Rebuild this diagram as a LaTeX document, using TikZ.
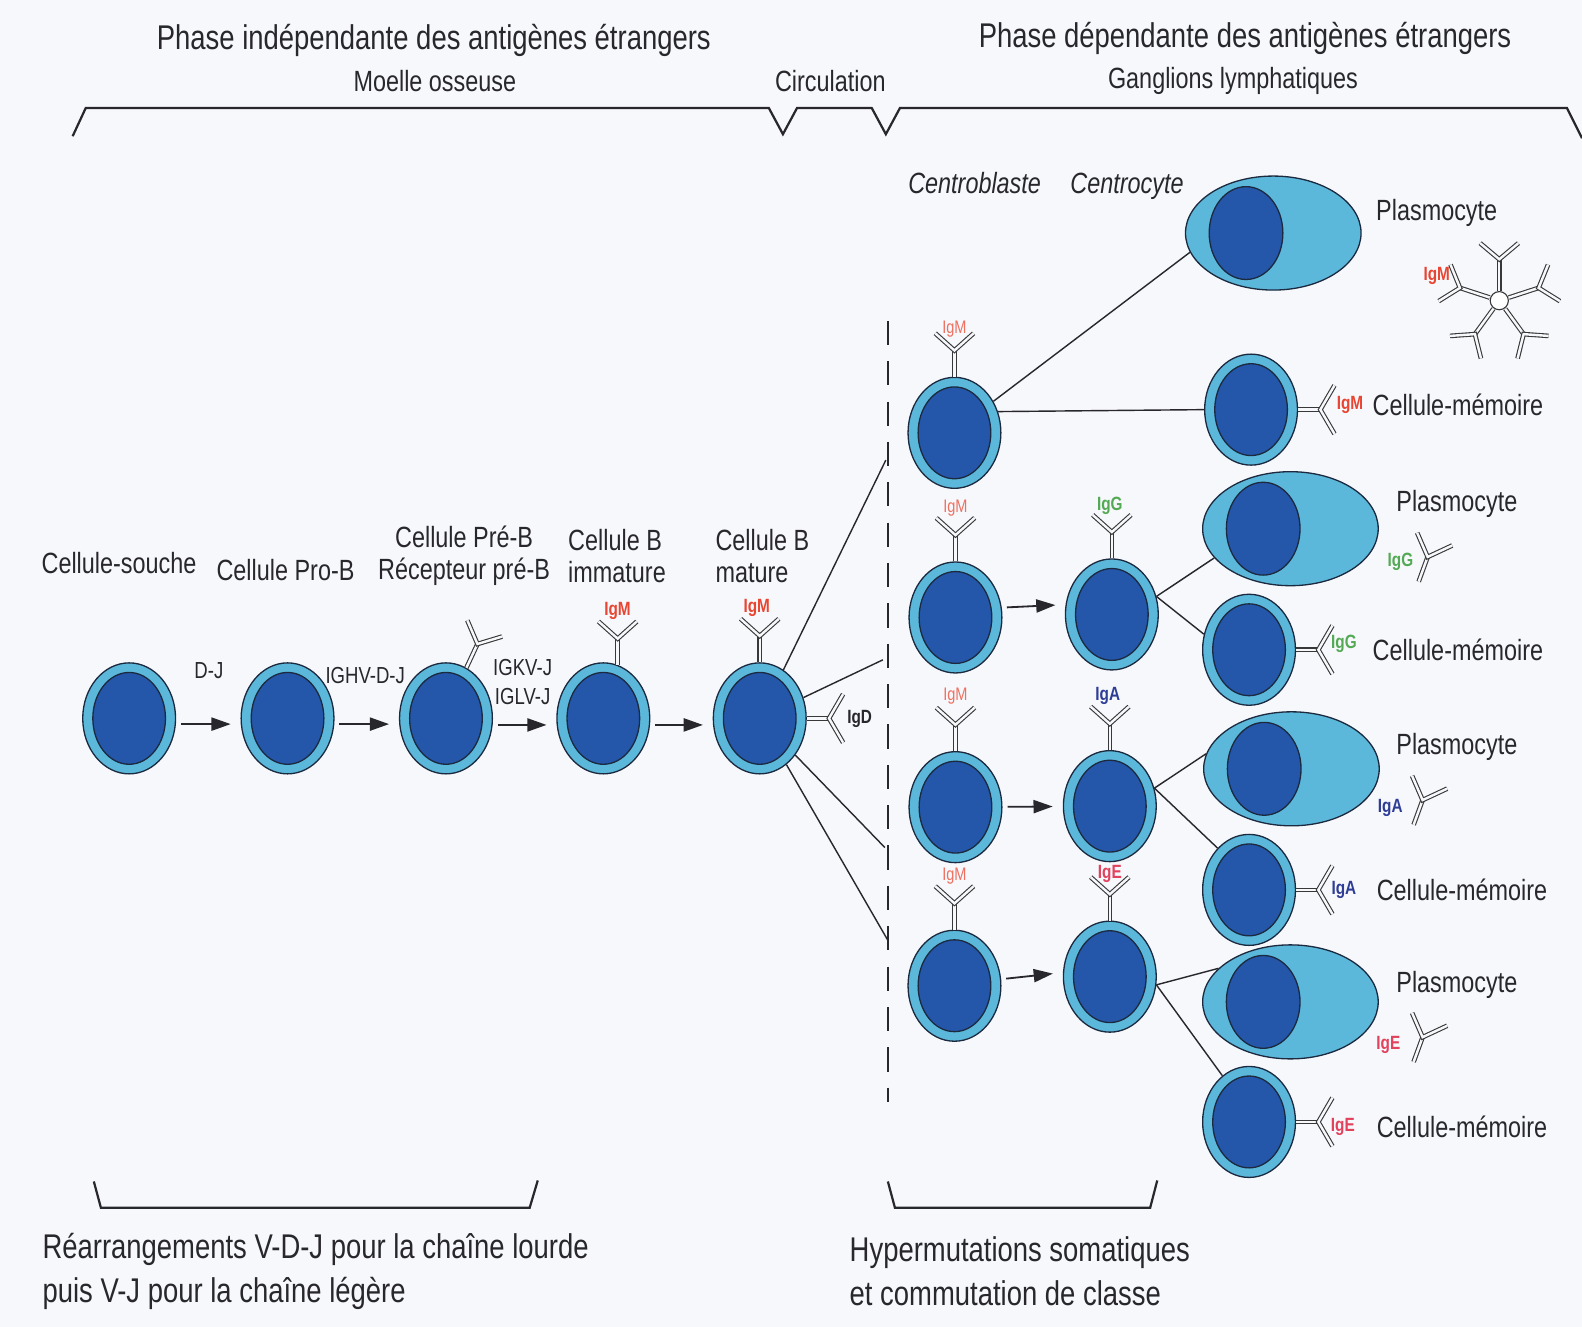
\documentclass[tikz,border=0pt]{standalone}
\usepackage{fontspec}
\setmainfont{Liberation Sans}[FakeStretch=0.8]
\usepackage{tikz}
\usetikzlibrary{arrows.meta}
\usetikzlibrary{shapes.geometric}

\definecolor{paper}{RGB}{247,248,252}
\definecolor{ink}{RGB}{40,40,44}
\definecolor{ring}{RGB}{92,184,218}
\definecolor{nucleus}{RGB}{36,86,170}
\definecolor{rim}{RGB}{28,42,64}
\definecolor{igmred}{RGB}{232,70,50}
\definecolor{igmpale}{RGB}{238,112,96}
\definecolor{iggreen}{RGB}{84,170,84}
\definecolor{igblue}{RGB}{46,62,150}
\definecolor{igered}{RGB}{226,66,92}

\tikzset{
  cell/.style={ellipse, draw=rim, line width=1.3pt, fill=ring, inner sep=0pt,
    minimum width=92pt, minimum height=110pt,
    path picture={\draw[rim, line width=1.3pt, fill=nucleus]
      (path picture bounding box.center) ellipse [x radius=36pt, y radius=45.5pt];}},
  plasmo/.style={ellipse, draw=rim, line width=1.3pt, fill=ring, inner sep=0pt,
    minimum width=174pt, minimum height=113pt,
    path picture={\draw[rim, line width=1.3pt, fill=nucleus]
      ([xshift=-27pt]path picture bounding box.center) ellipse [x radius=36.5pt, y radius=46pt];}},
  titlelab/.style={font=\fontsize{34}{40}\selectfont, text=ink, inner sep=0pt},
  sublab/.style={font=\fontsize{29}{32}\selectfont, text=ink, inner sep=0pt},
  lab/.style={font=\fontsize{29}{32}\selectfont, text=ink, inner sep=0pt, align=center},
  itlab/.style={font=\fontsize{29}{32}\selectfont\itshape, text=ink, inner sep=0pt, anchor=base},
  smalllab/.style={font=\fontsize{23}{28}\selectfont, text=ink, inner sep=0pt},
  iglab/.style={font=\fontsize{19}{20}\selectfont\bfseries, inner sep=0pt},
  igpale/.style={font=\fontsize{18}{20}\selectfont, text=igmpale, inner sep=0pt},
  footlab/.style={font=\fontsize{34}{44}\selectfont, text=ink, inner sep=0pt, align=left, anchor=west},
  link/.style={draw=ink, line width=1.4pt},
  devarrow/.style={-{Triangle[length=19pt,width=13pt]}, draw=ink, line width=1.8pt,
    shorten <=5pt, shorten >=10pt},
  cutline/.style={draw=ink, line width=1.4pt, dash pattern=on 24pt off 16pt},
  brace/.style={draw=ink, line width=2.2pt, line join=miter},
  abline/.style={draw=black!78, line width=1.1pt, double=paper, double distance=2.4pt},
  pent/.style={circle, draw=black!78, fill=white, line width=1.1pt, minimum size=18pt, inner sep=0pt},
  abup/.pic={
    \draw[abline] (0,0) -- (0,-26);
    \draw[abline] (-19,-43) -- (0,-26) -- (19,-43);
  },
  abside/.pic={
    \draw[abline] (0,0) -- (22,0);
    \draw[abline] (36,-24) -- (22,0) -- (36,24);
  },
  abfree/.pic={
    \draw[abline] (0,0) -- (0,26);
    \draw[abline] (-18,-19) -- (0,0) -- (19,-19);
  },
  abunit/.pic={
    \draw[abline] (0,-10) -- (0,-41);
    \draw[abline] (-19,-57) -- (0,-41) -- (19,-57);
  },
}

\begin{document}
\begin{tikzpicture}[x=1pt,y=-1pt]
\fill[paper] (0,0) rectangle (1568,1315);
\useasboundingbox (0,0) rectangle (1568,1315);

% phases
\node[titlelab] (phase1) at (430,40) {Phase indépendante des antigènes étrangers};
\node[sublab] (moelle) at (431,80) {Moelle osseuse};
\node[sublab] (circ) at (823,80) {Circulation};
\node[titlelab] (phase2) at (1234,38) {Phase dépendante des antigènes étrangers};
\node[sublab] (gangl) at (1222,80) {Ganglions lymphatiques};
\draw[brace] (72,135) -- (85,107) -- (762,107) -- (776,133) -- (790,107) -- (864,107)
  -- (878,133) -- (892,107) -- (1553,107) -- (1568,137);

% moelle osseuse
\node[cell] (souche) at (128,712) {};
\node[cell] (prob) at (285,712) {};
\node[cell] (preb) at (442,712) {};
\node[cell] (immb) at (598,712) {};
\node[cell] (matb) at (753,712) {};

\node[lab] (lsouche) at (118,558) {Cellule-souche};
\node[lab] (lprob) at (283,565) {Cellule Pro-B};
\node[lab] (lpreb) at (460,551) {Cellule Pré-B\\Récepteur pré-B};
\node[lab, align=left, anchor=west] (limm) at (563,551) {Cellule B\\immature};
\node[lab, align=left, anchor=west] (lmat) at (709,551) {Cellule B\\mature};

\node[smalllab] (ldj) at (207,665) {D-J};
\node[smalllab] (lvdj) at (362,670) {IGHV-D-J};
\node[smalllab] (lkvj) at (518,662) {IGKV-J};
\node[smalllab] (llvj) at (518,690) {IGLV-J};

\draw[devarrow] (souche.-7) -- (prob.187);
\draw[devarrow] (prob.-7) -- (preb.187);
\draw[devarrow] (preb.-8) -- (immb.188);
\draw[devarrow] (immb.-8) -- (matb.188);

\pic[rotate=-25] at (preb.68) {abup};
\pic at (immb.75) {abup};
\node[iglab, text=igmred] (igimm) at (612,606) {IgM};
\pic at (matb.north) {abup};
\node[iglab, text=igmred] (igmat) at (750,603) {IgM};
\pic at (matb.east) {abside};
\node[iglab, text=ink] (igd) at (852,713) {IgD};

% circulation
\coordinate (dtop) at (880,318);
\coordinate (dbot) at (880,1092);
\draw[cutline] (dtop) -- (dbot);
\coordinate (f1) at (878,456);
\coordinate (f2) at (875,654);
\coordinate (f3) at (877,840);
\coordinate (f4) at (880,932);
\draw[link] (matb) -- (f1);
\draw[link] (matb) -- (f2);
\draw[link] (matb) -- (f3);
\draw[link] (matb) -- (f4);

% ganglions lymphatiques
\node[itlab] (lcb) at (966,192) {Centroblaste};
\node[itlab] (lcc) at (1117,192) {Centrocyte};

\node[cell] (cb1) at (946,429) {};
\node[cell] (cb2) at (947,612) {};
\node[cell] (cb3) at (947,800) {};
\node[cell] (cb4) at (946,977) {};
\node[cell] (cc1) at (1102,609) {};
\node[cell] (cc2) at (1100,799) {};
\node[cell] (cc3) at (1100,968) {};

\pic at (cb1.north) {abup};
\pic at (cb2.north) {abup};
\pic at (cb3.north) {abup};
\pic at (cb4.north) {abup};
\pic at (cc1.north) {abup};
\pic at (cc2.north) {abup};
\pic at (cc3.north) {abup};
\node[igpale] (igcb1) at (946,326) {IgM};
\node[igpale] (igcb2) at (947,504) {IgM};
\node[igpale] (igcb3) at (947,690) {IgM};
\node[igpale] (igcb4) at (946,868) {IgM};
\node[iglab, text=iggreen] (igcc1) at (1100,501) {IgG};
\node[iglab, text=igblue] (igcc2) at (1098,690) {IgA};
\node[iglab, text=igered] (igcc3) at (1100,866) {IgE};

\draw[devarrow] (cb2.12) -- (cc1.168);
\draw[devarrow] (cb3) -- (cc2);
\draw[devarrow] (cb4.8) -- (cc3.175);

\node[plasmo] (pl1) at (1262,231) {};
\node[plasmo] (pl2) at (1279,524) {};
\node[plasmo] (pl3) at (1280,762) {};
\node[plasmo] (pl4) at (1279,993) {};
\node[cell] (mem1) at (1240,406) {};
\node[cell] (mem2) at (1238,644) {};
\node[cell] (mem3) at (1238,882) {};
\node[cell] (mem4) at (1238,1112) {};

\draw[link] (cb1.39) -- (pl1.193);
\draw[link] (cb1.26) -- (mem1.west);
\draw[link] (cc1.22) -- (pl2.201);
\draw[link] (cc1.22) -- (mem2.161);
\draw[link] (cc2.22) -- (pl3.170);
\draw[link] (cc2.22) -- (mem3.127);
\draw[link] (cc3.-10) -- (pl4.155);
\draw[link] (cc3.-10) -- (mem4.120);

\node[lab] (lpl1) at (1424,211) {Plasmocyte};
\node[lab] (lpl2) at (1444,499) {Plasmocyte};
\node[lab] (lpl3) at (1444,740) {Plasmocyte};
\node[lab] (lpl4) at (1444,976) {Plasmocyte};

% IgM pentamere
\node[pent] (penta) at (1486,298) {};
\foreach \a in {90,18,-54,-126,162}
  \pic[rotate=\a-90] at (penta.center) {abunit};
\node[iglab, text=igmred] (igpl1) at (1424,273) {IgM};

\pic[rotate=-20] at (1415,552) {abfree};
\node[iglab, text=iggreen] (igpl2) at (1388,557) {IgG};
\pic[rotate=-20] at (1410,793) {abfree};
\node[iglab, text=igblue] (igpl3) at (1378,801) {IgA};
\pic[rotate=-20] at (1410,1028) {abfree};
\node[iglab, text=igered] (igpl4) at (1376,1036) {IgE};

\pic at (mem1.east) {abside};
\pic at (mem2.east) {abside};
\pic at (mem3.east) {abside};
\pic at (mem4.east) {abside};
\node[iglab, text=igmred] (igmem1) at (1338,401) {IgM};
\node[iglab, text=iggreen] (igmem2) at (1332,638) {IgG};
\node[iglab, text=igblue] (igmem3) at (1332,882) {IgA};
\node[iglab, text=igered] (igmem4) at (1331,1117) {IgE};
\node[lab] (lmem1) at (1445,401) {Cellule-mémoire};
\node[lab] (lmem2) at (1445,644) {Cellule-mémoire};
\node[lab] (lmem3) at (1449,882) {Cellule-mémoire};
\node[lab] (lmem4) at (1449,1117) {Cellule-mémoire};

% accolades du bas
\draw[brace] (93,1171) -- (100,1197) -- (525,1197) -- (533,1170);
\draw[brace] (880,1171) -- (887,1197) -- (1140,1197) -- (1147,1170);
\node[footlab] (frear) at (42,1260) {Réarrangements V-D-J pour la chaîne lourde\\puis V-J pour la chaîne légère};
\node[footlab] (fhyp) at (842,1260) {Hypermutations somatiques\\et commutation de classe};
\end{tikzpicture}
\end{document}
